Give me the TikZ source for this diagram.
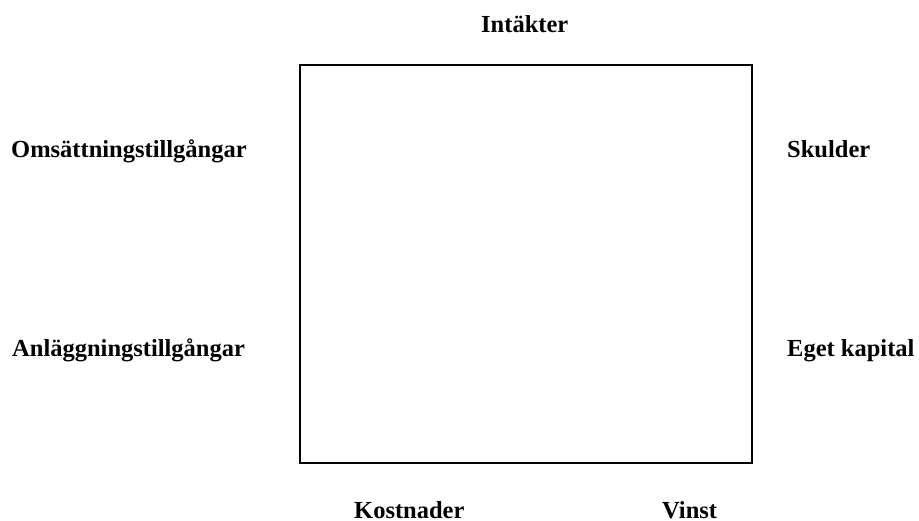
\documentclass[tikz,border=0pt]{standalone}
\usepackage{fontspec}
\setmainfont{Liberation Serif}
\begin{document}
\begin{tikzpicture}[x=1pt,y=-1pt,
  lbl/.style={anchor=base west,inner sep=0pt,font=\fontsize{24.5}{28}\selectfont\bfseries},
  frame/.style={draw=black,line width=2pt,minimum width=452pt,minimum height=398pt,inner sep=0pt}]
\useasboundingbox (0,0) rectangle (919,520);
\node[frame] (box) at (526,264) {};
\node[lbl] (intakter) at (481,32) {Intäkter};
\node[lbl] (omsatt) at (11,157.5) {Omsättningstillgångar};
\node[lbl] (skulder) at (787,157.5) {Skulder};
\node[lbl] (anlagg) at (12,356) {Anläggningstillgångar};
\node[lbl] (eget) at (787,356) {Eget kapital};
\node[lbl] (kostnader) at (354,518) {Kostnader};
\node[lbl] (vinst) at (662,518) {Vinst};
\end{tikzpicture}
\end{document}
